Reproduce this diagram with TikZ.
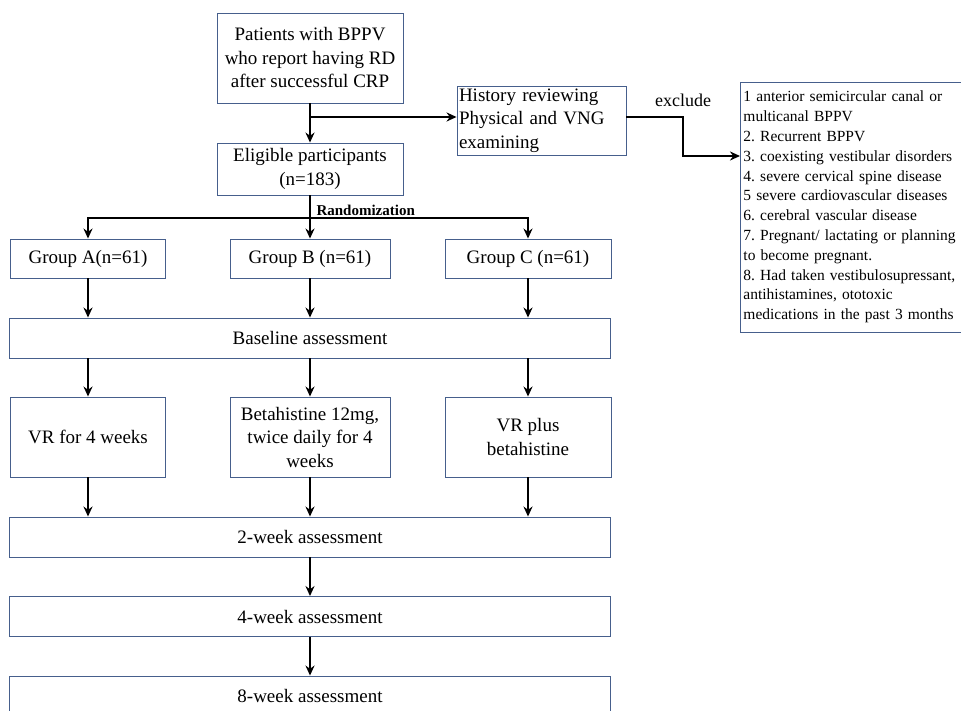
\documentclass[tikz,border=0pt]{standalone}
\usepackage{fontspec}
\setmainfont{Liberation Serif}
\usetikzlibrary{arrows.meta}
\definecolor{boxline}{RGB}{70,95,140}
\frenchspacing

\begin{document}
\begin{tikzpicture}[
    x=1pt, y=-1pt,
    >={Stealth[length=10pt,width=9pt]},
    % Styles for the boxes and arrows
    stage/.style={rectangle, draw=boxline, line width=0.9pt, align=center, inner sep=2pt, font=\fontsize{19}{23.5}\selectfont},
    wide/.style={stage, minimum width=601pt, minimum height=40pt},
    arm/.style={stage, minimum height=39pt},
    treat/.style={stage, minimum height=80pt},
    flow/.style={->, line width=2.6pt, draw=black}
]
    \useasboundingbox (0,0) rectangle (961,711);

    % =========================================================================
    % 1. SCREENING
    % =========================================================================
    \node[stage, minimum width=186pt, minimum height=90pt] (pat) at (310,58)
        {Patients with BPPV\\who report having RD\\after successful CRP};
    \node[stage, minimum width=186pt, minimum height=52pt] (elig) at (310,169)
        {Eligible participants\\(n=183)};
    \node[stage, align=left, text width=165pt, minimum height=69pt] (hist) at (541.5,120.5)
        {History reviewing\\Physical  and VNG\\examining};
    \node[font=\fontsize{18}{22}\selectfont] (excl) at (683,100) {exclude};

    % Exclusion criteria (runs off the right edge)
    \node[stage, anchor=west, align=left, text width=232pt, minimum height=250pt,
          inner sep=3pt, font=\fontsize{15.5}{19.8}\selectfont] (crit) at (740,207)
        {1 anterior semicircular canal or\\
         multicanal BPPV\\
         2. Recurrent BPPV\\
         3. coexisting vestibular disorders\\
         4. severe cervical spine disease\\
         5 severe cardiovascular diseases\\
         6. cerebral vascular disease\\
         7. Pregnant/ lactating or planning\\
         to become pregnant.\\
         8. Had taken vestibulosupressant,\\
         antihistamines, ototoxic\\
         medications in the past 3 months};

    \coordinate (split) at (310,117);
    \coordinate (into) at (crit.west |- 0,156);
    \draw[flow] (pat) -- (elig);
    \draw[flow] (split) -- (split -| hist.west);
    \draw[flow] (hist.east |- split) -- (excl.south |- split) |- (into);

    % =========================================================================
    % 2. RANDOMIZATION INTO THREE GROUPS
    % =========================================================================
    \node[arm, minimum width=155pt] (grpA) at (88,258.5) {Group A(n=61)};
    \node[arm, minimum width=160pt] (grpB) at (310,258.5) {Group B (n=61)};
    \node[arm, minimum width=166pt] (grpC) at (528,258.5) {Group C (n=61)};

    \coordinate (rand) at (310,218);
    \node[font=\bfseries\fontsize{15}{18}\selectfont, anchor=south west] (randtxt) at (313,219) {Randomization};
    \draw[line width=2.6pt] (elig) -- (rand);
    \draw[flow] (rand) -| (grpA);
    \draw[flow] (rand) -- (grpB);
    \draw[flow] (rand) -| (grpC);

    % =========================================================================
    % 3. BASELINE AND INTERVENTIONS
    % =========================================================================
    \node[wide] (base) at (310,338) {Baseline assessment};
    \foreach \g in {A,B,C}
        \draw[flow] (grp\g) -- (grp\g |- base.north);

    \node[treat, minimum width=155pt] (trtA) at (88,437) {VR for 4 weeks};
    \node[treat, minimum width=160pt] (trtB) at (310,437) {Betahistine 12mg,\\twice daily for 4\\weeks};
    \node[treat, minimum width=166pt] (trtC) at (528,437) {VR plus\\betahistine};
    \foreach \g in {A,B,C}
        \draw[flow] (trt\g |- base.south) -- (trt\g);

    % =========================================================================
    % 4. FOLLOW-UP
    % =========================================================================
    \node[wide] (wk2) at (310,537) {2-week assessment};
    \foreach \g in {A,B,C}
        \draw[flow] (trt\g) -- (trt\g |- wk2.north);

    \node[wide] (wk4) at (310,616.5) {4-week assessment};
    \node[wide] (wk8) at (310,696) {8-week assessment};
    \draw[flow] (wk2) -- (wk4);
    \draw[flow] (wk4) -- (wk8);

\end{tikzpicture}
\end{document}
